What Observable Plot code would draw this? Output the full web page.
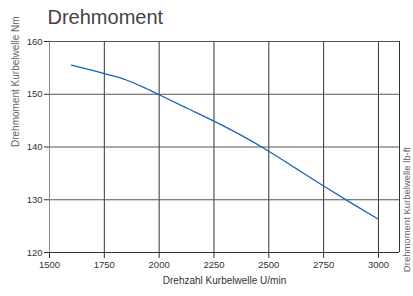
<!DOCTYPE html>
<html>
<head>
<meta charset="utf-8">
<script src="https://cdn.jsdelivr.net/npm/d3@7"></script>
<script src="https://cdn.jsdelivr.net/npm/@observablehq/plot@0.6"></script>
<style>
  body { margin: 0; background: #fff; overflow: hidden; }
  svg { font-family: "Liberation Sans", Arial, sans-serif; }
</style>
</head>
<body>
<div id="chart"></div>
<script>
const title = "Drehmoment";
const xLabel = "Drehzahl Kurbelwelle U/min";
const yLabel = "Drehmoment Kurbelwelle Nm";
const y2Label = "Drehmoment Kurbelwelle lb-ft";
const rpm = [1600, 1750, 1850, 1925, 2000, 2125, 2250, 2375, 2500, 2625, 2750, 2875, 3000];
const torque = [155.5, 153.9, 152.7, 151.4, 149.9, 147.4, 144.9, 142.2, 139.2, 135.9, 132.6, 129.4, 126.3];
const xTicks = [1500, 1750, 2000, 2250, 2500, 2750, 3000];
const yTicks = [120, 130, 140, 150, 160];

const data = rpm.map((r, i) => ({rpm: r, nm: torque[i]}));

const chart = Plot.plot({
  width: 413,
  height: 296,
  marginTop: 41,
  marginBottom: 44,
  marginLeft: 49,
  marginRight: 14,
  style: {fontFamily: "'Liberation Sans', Arial, sans-serif", fontSize: "9.5px", color: "#333", background: "#fff"},
  x: {domain: [1500, 3096], label: null},
  y: {domain: [120, 160], label: null},
  marks: [
    Plot.gridX(xTicks.slice(1), {stroke: "#333", strokeOpacity: 1}),
    Plot.gridY(yTicks.slice(1), {stroke: "#555", strokeOpacity: 1}),
    Plot.ruleX([1500], {stroke: "#888"}),
    Plot.ruleX([3096], {stroke: "#333"}),
    Plot.ruleY([120], {stroke: "#333"}),
    Plot.axisX({ticks: xTicks, tickSize: 6, tickPadding: 3, tickFormat: d => String(d), label: null, stroke: "#333"}),
    Plot.axisY({ticks: yTicks, tickSize: 5, tickPadding: 2, tickFormat: d => String(d), label: null, stroke: "#333"}),
    Plot.line(data, {x: "rpm", y: "nm", stroke: "#1a62b8", strokeWidth: 1.3, curve: "monotone-x"}),
    Plot.text([title], {frameAnchor: "top-left", dx: -2, dy: -32, fontSize: 20, fill: "#444", textAnchor: "start"}),
    Plot.text([xLabel], {frameAnchor: "bottom", dy: 31, fontSize: 10, fill: "#333"}),
    Plot.text([yLabel], {frameAnchor: "left", dx: -34, rotate: -90, fontSize: 10, fill: "#666"}),
    Plot.text([y2Label], {frameAnchor: "right", dx: 7, rotate: -90, fontSize: 9.5, fill: "#666"})
  ]
});
document.getElementById("chart").appendChild(chart);
</script>
</body>
</html>
